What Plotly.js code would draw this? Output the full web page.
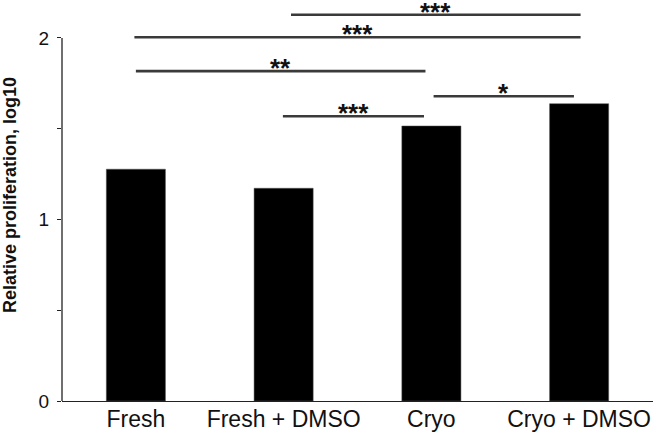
<!DOCTYPE html>
<html>
<head>
<meta charset="utf-8">
<script src="https://cdn.plot.ly/plotly-3.0.1.min.js"></script>
<style>html,body{margin:0;padding:0;background:#fff;}#chart{width:660px;height:433px;}</style>
</head>
<body>
<div id="chart"></div>
<script>
// Data
var categories = ["Fresh", "Fresh + DMSO", "Cryo", "Cryo + DMSO"];
var values = [1.277, 1.172, 1.515, 1.638];

// Significance brackets (category index positions, y in data units)
var sigStart = [1.05, -0.01, 0.0, 0.995, 2.015];
var sigEnd = [3.01, 3.01, 1.96, 1.95, 2.965];
var sigY = [2.128, 2.004, 1.817, 1.569, 1.679];
var sigLabel = ["***", "***", "**", "***", "*"];

var yTickVals = [0, 0.5, 1, 1.5, 2];
var yTickText = ["0", "", "1", "", "2"];
var yTitle = "Relative proliferation, log10";

var FONT = "Liberation Sans, Arial, Helvetica, sans-serif";

var shapes = [];
var annotations = [];
for (var i = 0; i < sigY.length; i++) {
  shapes.push({
    type: "line", xref: "x", yref: "y",
    x0: sigStart[i], x1: sigEnd[i], y0: sigY[i], y1: sigY[i],
    line: {color: "#3a3a3a", width: 2.6}
  });
  annotations.push({
    xref: "x", yref: "y", x: (sigStart[i] + sigEnd[i]) / 2, y: sigY[i],
    text: "<b>" + sigLabel[i] + "</b>", showarrow: false,
    xanchor: "center", yanchor: "bottom", yshift: -13, borderpad: 0,
    font: {family: FONT, size: 26, color: "#111"}
  });
}
// y axis line only from 0 to 2
shapes.push({
  type: "line", xref: "paper", yref: "y",
  x0: 0, x1: 0, y0: yTickVals[0], y1: yTickVals[yTickVals.length - 1],
  line: {color: "#222", width: 1.3}
});
annotations.push({
  xref: "paper", yref: "paper", x: 0, y: 0.527, xshift: -52,
  xanchor: "center", yanchor: "middle", textangle: -90,
  text: "<b>" + yTitle + "</b>", showarrow: false,
  font: {family: FONT, size: 18, color: "#111"}
});

var trace = {
  type: "bar", x: categories, y: values,
  marker: {color: "#000", line: {color: "#555", width: 0.5}},
  width: 0.4, hoverinfo: "skip"
};

var layout = {
  width: 660, height: 433,
  margin: {l: 62, r: 7, t: 10, b: 32},
  paper_bgcolor: "#fff", plot_bgcolor: "#fff",
  showlegend: false,
  font: {family: FONT, color: "#111"},
  xaxis: {
    type: "category", range: [-0.5, 3.5],
    showline: true, linecolor: "#222", linewidth: 1.4,
    ticks: "", showgrid: false, zeroline: false,
    tickfont: {family: FONT, size: 23, color: "#111"},
    ticklabelstandoff: -3
  },
  yaxis: {
    range: [0, 2.154],
    showline: false, showgrid: false, zeroline: false,
    tickvals: yTickVals, ticktext: yTickText,
    ticks: "outside", ticklen: 4, tickwidth: 1, tickcolor: "#222",
    tickfont: {family: FONT, size: 19, color: "#111"},
    ticklabelstandoff: 4
  },
  shapes: shapes,
  annotations: annotations
};

Plotly.newPlot("chart", [trace], layout, {displayModeBar: false, staticPlot: true});
</script>
</body>
</html>
